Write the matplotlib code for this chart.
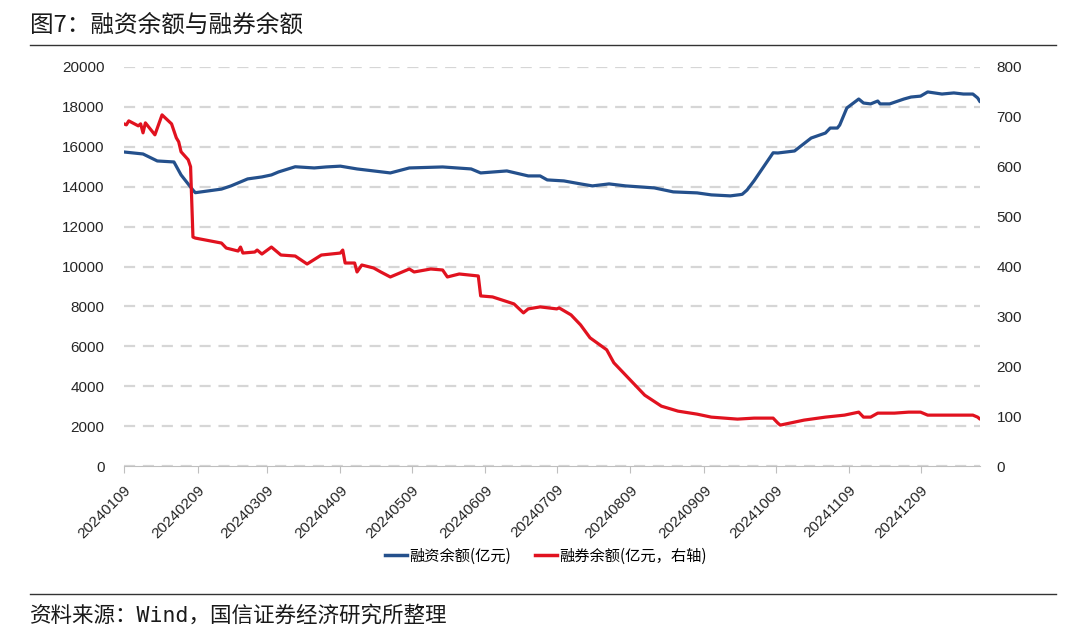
import matplotlib
matplotlib.use("Agg")
import matplotlib.pyplot as plt
import pandas as pd
from matplotlib.lines import Line2D

plt.rcParams['font.family'] = ['Noto Sans CJK SC', 'DejaVu Sans']

title = "图7：融资余额与融券余额"
source = "资料来源：Wind，国信证券经济研究所整理"
fin_label = "融资余额(亿元)"
sec_label = "融券余额(亿元，右轴)"

fin_dates = ["2024-01-09", "2024-01-17", "2024-01-23", "2024-01-30", "2024-02-02", "2024-02-07",
             "2024-02-08", "2024-02-19", "2024-02-23", "2024-03-01", "2024-03-07", "2024-03-11",
             "2024-03-14", "2024-03-21", "2024-03-29", "2024-04-03", "2024-04-09", "2024-04-16",
             "2024-04-30", "2024-05-08", "2024-05-22", "2024-06-03", "2024-06-07", "2024-06-18",
             "2024-06-27", "2024-07-02", "2024-07-05", "2024-07-12", "2024-07-19", "2024-07-24",
             "2024-07-31", "2024-08-07", "2024-08-19", "2024-08-27", "2024-09-06", "2024-09-12",
             "2024-09-20", "2024-09-24", "2024-09-25", "2024-09-27", "2024-09-30", "2024-10-08",
             "2024-10-10", "2024-10-17", "2024-10-24", "2024-10-30", "2024-11-01", "2024-11-04",
             "2024-11-05", "2024-11-08", "2024-11-13", "2024-11-15", "2024-11-18", "2024-11-21",
             "2024-11-22", "2024-11-26", "2024-12-02", "2024-12-05", "2024-12-09", "2024-12-12",
             "2024-12-18", "2024-12-23", "2024-12-27", "2024-12-31", "2025-01-02", "2025-01-03"]
fin_vals = [15740, 15640, 15290, 15240, 14590, 13830,
            13700, 13880, 14040, 14390, 14490, 14590,
            14740, 15000, 14940, 14990, 15030, 14890,
            14690, 14940, 14990, 14890, 14690, 14790,
            14540, 14540, 14340, 14290, 14140, 14040,
            14140, 14040, 13940, 13740, 13690, 13590,
            13540, 13600, 13620, 13830, 14300, 15700,
            15690, 15790, 16440, 16690, 16940, 16940,
            17090, 17945, 18395, 18195, 18150, 18295,
            18150, 18150, 18395, 18495, 18540, 18750,
            18645, 18700, 18645, 18645, 18450, 18260]

sec_dates = ["2024-01-09", "2024-01-10", "2024-01-11", "2024-01-15", "2024-01-16", "2024-01-17",
             "2024-01-18", "2024-01-22", "2024-01-25", "2024-01-29", "2024-01-31", "2024-02-01",
             "2024-02-02", "2024-02-05", "2024-02-06", "2024-02-07", "2024-02-08", "2024-02-19",
             "2024-02-21", "2024-02-26", "2024-02-27", "2024-02-28", "2024-03-04", "2024-03-05",
             "2024-03-07", "2024-03-11", "2024-03-15", "2024-03-21", "2024-03-26", "2024-04-01",
             "2024-04-09", "2024-04-10", "2024-04-11", "2024-04-15", "2024-04-16", "2024-04-18",
             "2024-04-23", "2024-04-26", "2024-04-30", "2024-05-08", "2024-05-10", "2024-05-17",
             "2024-05-22", "2024-05-24", "2024-05-29", "2024-06-06", "2024-06-07", "2024-06-12",
             "2024-06-21", "2024-06-25", "2024-06-27", "2024-07-02", "2024-07-09", "2024-07-10",
             "2024-07-15", "2024-07-19", "2024-07-23", "2024-07-30", "2024-08-02", "2024-08-09",
             "2024-08-15", "2024-08-22", "2024-08-29", "2024-09-06", "2024-09-12", "2024-09-23",
             "2024-09-30", "2024-10-08", "2024-10-10", "2024-10-11", "2024-10-21", "2024-10-30",
             "2024-11-07", "2024-11-13", "2024-11-15", "2024-11-18", "2024-11-21", "2024-11-28",
             "2024-12-04", "2024-12-09", "2024-12-12", "2024-12-18", "2024-12-31", "2025-01-02",
             "2025-01-03"]
sec_vals = [686, 684, 692, 682, 686, 668,
            688, 664, 704, 686, 658, 650,
            630, 614, 600, 459, 457, 447,
            437, 431, 439, 427, 429, 433,
            425, 439, 423, 421, 405, 423,
            427, 433, 407, 407, 389, 403,
            397, 389, 379, 395, 389, 395,
            393, 379, 385, 381, 341, 339,
            325, 307, 315, 319, 315, 317,
            303, 283, 257, 233, 207, 172,
            142, 120, 110, 104, 98, 94,
            96, 96, 86, 82, 92, 98,
            102, 108, 98, 98, 106, 106,
            108, 108, 102, 102, 102, 98,
            94]

left_ticks = [0, 2000, 4000, 6000, 8000, 10000, 12000, 14000, 16000, 18000, 20000]
right_ticks = [0, 100, 200, 300, 400, 500, 600, 700, 800]
x_tick_labels = ["20240109", "20240209", "20240309", "20240409", "20240509", "20240609",
                 "20240709", "20240809", "20240909", "20241009", "20241109", "20241209"]

blue = "#24508c"
red = "#e1121f"
grid_c = "#d6d6d6"
text_c = "#262626"
num_font = ['Liberation Sans', 'DejaVu Sans']

fig = plt.figure(figsize=(10.8, 6.4), dpi=100)
ax = fig.add_axes([124 / 1080, 1 - 466 / 640, (980 - 124) / 1080, (466 - 67) / 640])
ax2 = ax.twinx()

fd = pd.to_datetime(fin_dates)
sd = pd.to_datetime(sec_dates)

ax.plot(fd, fin_vals, color=blue, lw=2.3, solid_joinstyle='round', solid_capstyle='round', zorder=3)
ax2.plot(sd, sec_vals, color=red, lw=2.3, solid_joinstyle='round', solid_capstyle='round', zorder=3)

ax.set_ylim(0, 20000)
ax2.set_ylim(0, 800)
ax.set_yticks(left_ticks)
ax2.set_yticks(right_ticks)
ax.set_yticklabels([str(v) for v in left_ticks], family=num_font)
ax2.set_yticklabels([str(v) for v in right_ticks], family=num_font)

xt = pd.to_datetime(x_tick_labels, format="%Y%m%d")
ax.set_xlim(pd.Timestamp("2024-01-09"), pd.Timestamp("2025-01-03"))
ax.set_xticks(xt)
ax.set_xticklabels(x_tick_labels, rotation=45, ha='right', rotation_mode='anchor', family=num_font)

ax.yaxis.grid(True, color=grid_c, linestyle=(0, (5, 3.5)), linewidth=1.6)
ax.set_axisbelow(True)
for a in (ax, ax2):
    for s in ('left', 'right', 'top'):
        a.spines[s].set_visible(False)
ax.spines['bottom'].set_color('#bfbfbf')
ax2.spines['bottom'].set_visible(False)
ax.tick_params(axis='y', length=0, labelsize=11, colors=text_c, pad=14)
ax2.tick_params(axis='y', length=0, labelsize=11, colors=text_c, pad=12)
ax.tick_params(axis='x', length=5, color='#bfbfbf', labelsize=11, colors=text_c, pad=7)

handles = [Line2D([], [], color=blue, lw=2.5), Line2D([], [], color=red, lw=2.5)]
fig.legend(handles, [fin_label, sec_label], loc='center', bbox_to_anchor=(546 / 1080, 1 - 556 / 640),
           ncol=2, frameon=False, fontsize=11, handlelength=1.4, handletextpad=0.15, columnspacing=1.6)

fig.text(30 / 1080, 1 - 25 / 640, title, fontsize=17, color='#1a1a1a', va='center', ha='left')
fig.add_artist(Line2D([30 / 1080, 1056 / 1080], [1 - 45 / 640, 1 - 45 / 640], color='#333333', lw=1.0))
fig.add_artist(Line2D([30 / 1080, 1056 / 1080], [1 - 594 / 640, 1 - 594 / 640], color='#333333', lw=1.0))
fig.text(30 / 1080, 1 - 615 / 640, source, fontsize=15.5, color='#1a1a1a', va='center', ha='left',
         family=['DejaVu Sans Mono', 'Noto Sans CJK SC'])

fig.savefig("out.png", dpi=100, facecolor='white')
